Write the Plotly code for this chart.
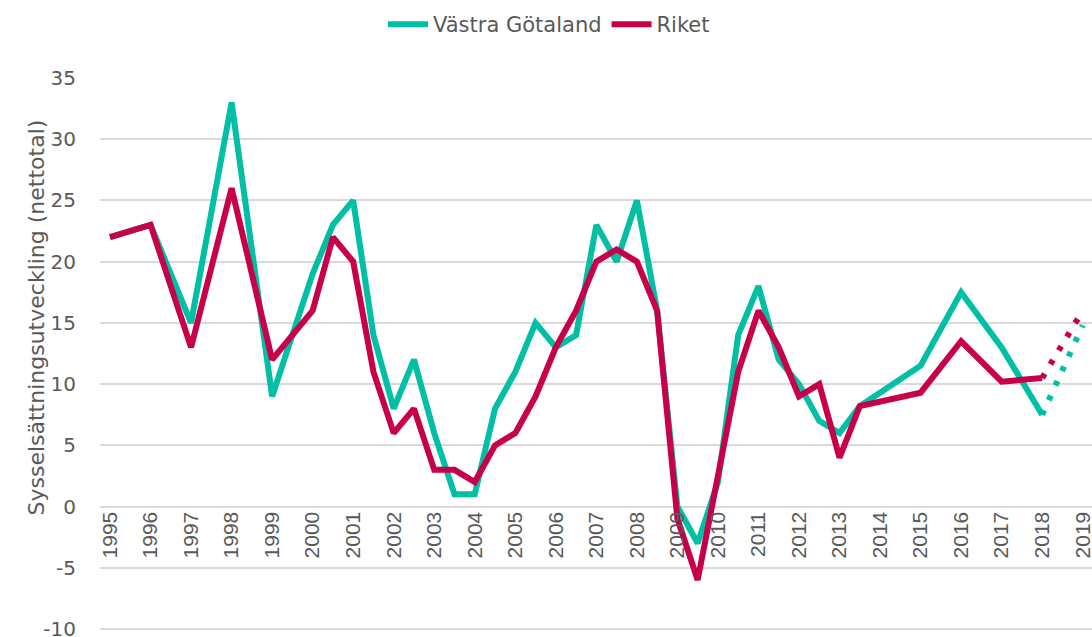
import plotly.graph_objects as go

# ---- data ----
years = [1995, 1996, 1997, 1998, 1999, 2000, 2000.5, 2001, 2001.5, 2002, 2002.5,
         2003, 2003.5, 2004, 2004.5, 2005, 2005.5, 2006, 2006.5, 2007, 2007.5,
         2008, 2008.5, 2009, 2009.5, 2010, 2010.5, 2011, 2011.5, 2012, 2012.5,
         2013, 2013.5, 2015, 2016, 2017, 2018]
vastra_gotaland = [22, 23, 15, 33, 9, 19, 23, 25, 14, 8, 12,
                   6, 1, 1, 8, 11, 15, 13, 14, 23, 20,
                   25, 16, 0, -3, 2, 14, 18, 12, 10, 7,
                   6, 8.2, 11.5, 17.5, 13, 7.5]
riket = [22, 23, 13, 26, 12, 16, 22, 20, 11, 6, 8,
         3, 3, 2, 5, 6, 9, 13, 16, 20, 21,
         20, 16, -1, -6, 2.5, 11, 16, 13, 9, 10,
         4, 8.2, 9.3, 13.5, 10.2, 10.5]

forecast_years = [2018, 2019]
vastra_gotaland_forecast = [7.5, 14.8]
riket_forecast = [10.5, 16]

tick_years = list(range(1995, 2020))
tick_labels = [str(y) for y in tick_years]
y_ticks = [-10, -5, 0, 5, 10, 15, 20, 25, 30, 35]
y_tick_labels = [str(v) for v in y_ticks]

GREEN = "#00BFA5"
RED = "#C8004A"
TEXT = "#595959"
GRID = "#D9D9D9"
FONT = "DejaVu Sans"

fig = go.Figure()
fig.add_trace(go.Scatter(x=years, y=vastra_gotaland, mode="lines", name="Västra Götaland",
                         line=dict(color=GREEN, width=6)))
fig.add_trace(go.Scatter(x=years, y=riket, mode="lines", name="Riket",
                         line=dict(color=RED, width=6)))
fig.add_trace(go.Scatter(x=forecast_years, y=vastra_gotaland_forecast, mode="lines",
                         showlegend=False, line=dict(color=GREEN, width=6, dash="5px,11px")))
fig.add_trace(go.Scatter(x=forecast_years, y=riket_forecast, mode="lines",
                         showlegend=False, line=dict(color=RED, width=6, dash="5px,11px")))

W, H = 1092, 637
PL, PR, PT, PB = 100, 1092, 78, 632          # plot area in page px
plot_w = PR - PL
plot_h = PB - PT
px_per_unit = (629 - 78) / 45                # -10 gridline at 629, 35 at 78
y_lo = -10 - (PB - 629) / px_per_unit
y_hi = 35
px_per_year = (1082.7 - 110) / 24
x0 = 1995 - (110 - PL) / px_per_year
x1 = 2019 + (PR - 1082.7) / px_per_year

fig.update_layout(
    width=W, height=H,
    margin=dict(l=PL, r=W - PR, t=PT, b=H - PB, autoexpand=False),
    plot_bgcolor="white", paper_bgcolor="white",
    font=dict(family=FONT, color=TEXT),
    showlegend=True,
    legend=dict(orientation="h", x=(549 - PL) / plot_w, xanchor="center",
                y=1 + (PT - 4) / plot_h, yanchor="top",
                font=dict(family=FONT, size=21, color=TEXT),
                itemwidth=40),
    xaxis=dict(range=[x0, x1], anchor="free", position=(0 - y_lo) / (y_hi - y_lo),
               automargin=False,
               tickvals=tick_years, ticktext=tick_labels, tickangle=-90,
               tickfont=dict(family="Liberation Sans", size=21, color=TEXT),
               ticklabeloverflow="allow",
               showgrid=False, zeroline=False, showline=False, ticks=""),
    yaxis=dict(range=[y_lo, y_hi], tickvals=y_ticks, ticktext=y_tick_labels,
               automargin=False, showgrid=True, gridcolor=GRID,
               gridwidth=2, zeroline=False, showline=False, ticks="",
               tickfont=dict(family=FONT, size=20, color=TEXT),
               ticklabeloverflow="allow",
               ticklabelstandoff=23),
    annotations=[dict(text="Sysselsättningsutveckling (nettotal)", textangle=-90,
                      xref="paper", yref="paper", x=(21 - PL) / plot_w,
                      y=(PB - 318) / plot_h, showarrow=False,
                      font=dict(family=FONT, size=22, color=TEXT))],
)

fig.write_html("out.html",
               config={"displayModeBar": False},
               post_script="document.body.style.margin='0px';"
                           "document.body.style.overflow='hidden';")
